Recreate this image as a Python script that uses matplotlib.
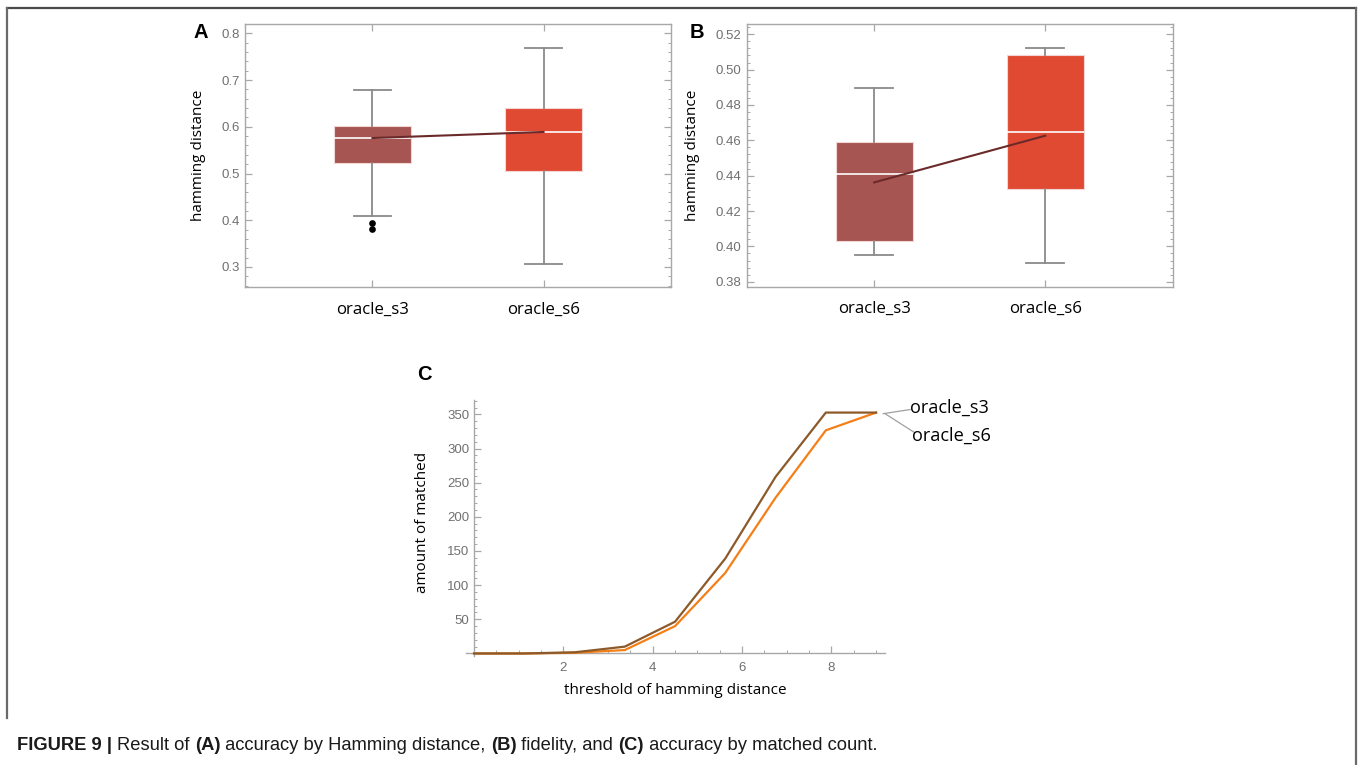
import matplotlib
matplotlib.use("Agg")
import matplotlib.pyplot as plt
from matplotlib import font_manager
from matplotlib.ticker import MultipleLocator
from matplotlib.lines import Line2D

# ---------------- data ----------------
categories = ["oracle_s3", "oracle_s6"]

# Panel A (accuracy by hamming distance): [whislo, q1, med, q3, whishi]
a_s3 = [0.409, 0.522, 0.576, 0.601, 0.679]
a_s6 = [0.307, 0.506, 0.589, 0.640, 0.769]
a_fliers_s3 = [0.395, 0.382]
a_fliers_s6 = []
a_means = [0.576, 0.589]

# Panel B (fidelity)
b_s3 = [0.3952, 0.4032, 0.4411, 0.4589, 0.4898]
b_s6 = [0.3906, 0.4326, 0.4645, 0.5083, 0.5122]
b_means = [0.4362, 0.4626]

# Panel C (accuracy by matched count)
c_threshold = [0, 1.125, 2.25, 3.375, 4.5, 5.625, 6.75, 7.875, 9]
c_s3 = [0, 0, 1.7, 10, 46.5, 139, 258.5, 352.6, 352.6]
c_s6 = [0, 0, 1.0, 5, 40, 118, 228, 326.6, 352.6]

a_yticks = [0.3, 0.4, 0.5, 0.6, 0.7, 0.8]
b_yticks = [0.38, 0.40, 0.42, 0.44, 0.46, 0.48, 0.50, 0.52]
c_xticks = [2, 4, 6, 8]
c_yticks = [50, 100, 150, 200, 250, 300, 350]

# ---------------- style ----------------
W, H = 1358, 765
DPI = 100

def has_font(name):
    try:
        font_manager.findfont(font_manager.FontProperties(family=name), fallback_to_default=False)
        return True
    except Exception:
        return False

TICKFONT = "Liberation Sans"
LABELFONT = "Open Sans"
CAPFONT = "Liberation Sans Narrow" if has_font("Liberation Sans Narrow") else "Liberation Sans"

TICK_COLOR = "#707070"
SPINE_COLOR = "#a8a8a8"
BOX_COLORS = ["#a65552", "#e04a33"]
WHISK = "#8a8a8a"
MEAN_COLOR = "#6b2a2a"
C_COLORS = ["#8c5a2a", "#f57f17"]

fig = plt.figure(figsize=(W / DPI, H / DPI), dpi=DPI)

def px_axes(left, top, right, bottom):
    return fig.add_axes([left / W, (H - bottom) / H, (right - left) / W, (bottom - top) / H])


def make_box(ax, stats_list, fliers_list, means, ylim, yticks, minor, fmt):
    stats = []
    for s, f, lab in zip(stats_list, fliers_list, categories):
        stats.append(dict(whislo=s[0], q1=s[1], med=s[2], q3=s[3], whishi=s[4],
                          fliers=f, label=lab))
    pos = [1, 2]
    res = ax.bxp(stats, positions=pos, widths=0.45, capwidths=0.22, patch_artist=True,
                 showfliers=True,
                 boxprops=dict(edgecolor="#f3d6d3", linewidth=0.8),
                 medianprops=dict(color="white", linewidth=1.2),
                 whiskerprops=dict(color=WHISK, linewidth=1.3),
                 capprops=dict(color=WHISK, linewidth=1.3),
                 flierprops=dict(marker="o", markerfacecolor="black", markeredgecolor="black",
                                 markersize=3.8, linestyle="none"))
    for patch, c in zip(res["boxes"], BOX_COLORS):
        patch.set_facecolor(c)
    ax.plot(pos, means, color=MEAN_COLOR, linewidth=1.5, zorder=5)
    ax.set_xlim(0.255, 2.745)
    ax.set_ylim(*ylim)
    ax.set_yticks(yticks)
    ax.set_yticklabels([fmt.format(v) for v in yticks])
    ax.yaxis.set_minor_locator(MultipleLocator(minor))
    ax.set_xticks(pos)
    ax.set_xticklabels(categories, fontfamily=LABELFONT, fontsize=12.1, color="black")
    for sp in ax.spines.values():
        sp.set_color(SPINE_COLOR)
        sp.set_linewidth(1.0)
    ax.tick_params(axis="y", which="both", direction="in", left=True, right=True,
                   color=SPINE_COLOR, labelcolor=TICK_COLOR, labelsize=9.5, pad=4)
    ax.tick_params(axis="y", which="major", length=5, width=0.9)
    ax.tick_params(axis="y", which="minor", length=2.5, width=0.7)
    ax.tick_params(axis="x", which="major", direction="in", bottom=True, top=True,
                   length=5, width=0.9, color=SPINE_COLOR, pad=10.5)
    for lab in ax.get_yticklabels():
        lab.set_fontfamily(TICKFONT)
    ax.set_ylabel("hamming distance", fontfamily=LABELFONT, fontsize=11, va="center")


# Panel A
axA = px_axes(245, 24, 671, 287)
make_box(axA, [a_s3, a_s6], [a_fliers_s3, a_fliers_s6], a_means, (0.2572, 0.82),
         a_yticks, 0.02, "{:.1f}")
axA.yaxis.set_label_coords((199 - 245) / 426, 0.5)

# Panel B
axB = px_axes(746.7, 24, 1172.7, 286.7)
make_box(axB, [b_s3, b_s6], [[], []], b_means, (0.3772, 0.5258),
         b_yticks, 0.004, "{:.2f}")
axB.yaxis.set_label_coords((693 - 746.7) / 426, 0.5)

# Panel C
axC = px_axes(466, 400, 885, 656.2)
axC.plot(c_threshold, c_s6, color=C_COLORS[1], linewidth=1.6, zorder=3)
axC.plot(c_threshold, c_s3, color=C_COLORS[0], linewidth=1.6, zorder=4)
axC.set_xlim(-0.18, 9.2)
axC.set_ylim(-4, 371)
axC.spines["top"].set_visible(False)
axC.spines["right"].set_visible(False)
axC.spines["left"].set_position(("data", 0))
axC.spines["bottom"].set_position(("data", 0))
for k in ("left", "bottom"):
    axC.spines[k].set_color(SPINE_COLOR)
    axC.spines[k].set_linewidth(1.0)
axC.set_xticks(c_xticks)
axC.set_yticks(c_yticks)
axC.xaxis.set_minor_locator(MultipleLocator(0.5))
axC.yaxis.set_minor_locator(MultipleLocator(10))
axC.tick_params(which="both", direction="in", color=SPINE_COLOR, labelcolor=TICK_COLOR,
                labelsize=9.5)
axC.tick_params(which="major", length=5, width=0.9)
axC.tick_params(which="minor", length=2.5, width=0.7)
axC.tick_params(axis="x", pad=6)
for lab in axC.get_xticklabels() + axC.get_yticklabels():
    lab.set_fontfamily(TICKFONT)
axC.set_ylabel("amount of matched", fontfamily=LABELFONT, fontsize=11, va="center")
axC.yaxis.set_label_coords((423 - 466) / 419, (656.2 - 522) / 256.2)
axC.set_xlabel("threshold of hamming distance", fontfamily=LABELFONT, fontsize=11, va="center")
axC.xaxis.set_label_coords(0.5, (656.2 - 691) / 256.2)

# curve labels with leader lines
axC.add_line(Line2D([9.16, 9.76], [351, 357], color="#a0a0a0", linewidth=0.9, clip_on=False))
axC.add_line(Line2D([9.2, 9.87], [351, 323], color="#a0a0a0", linewidth=0.9, clip_on=False))
axC.text(9.76, 359, categories[0], fontfamily=LABELFONT, fontsize=13.1, ha="left", va="center",
         clip_on=False)
axC.text(9.81, 319, categories[1], fontfamily=LABELFONT, fontsize=13.1, ha="left", va="center",
         clip_on=False)

# panel letters
for letter, (x, y) in zip("ABC", [(201, 33), (697, 33), (424, 375)]):
    fig.text(x / W, (H - y) / H, letter, fontfamily="Liberation Sans", fontweight="bold",
             fontsize=14.5, ha="center", va="center")

# figure frame lines
frame = "#6a6a6a"
fig.add_artist(Line2D([7 / W, 1356 / W], [(H - 8) / H, (H - 8) / H], color="#4a4a4a",
                      linewidth=1.6, transform=fig.transFigure))
fig.add_artist(Line2D([7 / W, 7 / W], [(H - 8) / H, (H - 718) / H], color=frame,
                      linewidth=1.6, transform=fig.transFigure))
fig.add_artist(Line2D([1356 / W, 1356 / W], [(H - 8) / H, 0], color=frame,
                      linewidth=1.6, transform=fig.transFigure))

# caption with mixed weights
pieces = [("FIGURE 9 | ", "bold"), ("Result of ", "normal"), ("(A)", "bold"),
          (" accuracy by Hamming distance, ", "normal"), ("(B)", "bold"),
          (" fidelity, and ", "normal"), ("(C)", "bold"), (" accuracy by matched count.", "normal")]
renderer = fig.canvas.get_renderer()
xpix = 17.0
cap_size = 13.2 if CAPFONT == "Liberation Sans" else 13.5
for txt, wt in pieces:
    t = fig.text(xpix / W, (H - 750) / H, txt, fontfamily=CAPFONT, fontweight=wt,
                 fontsize=cap_size, ha="left", va="baseline", color="#1a1a1a")
    bb = t.get_window_extent(renderer)
    xpix += bb.width

fig.savefig("out.png", dpi=DPI)
